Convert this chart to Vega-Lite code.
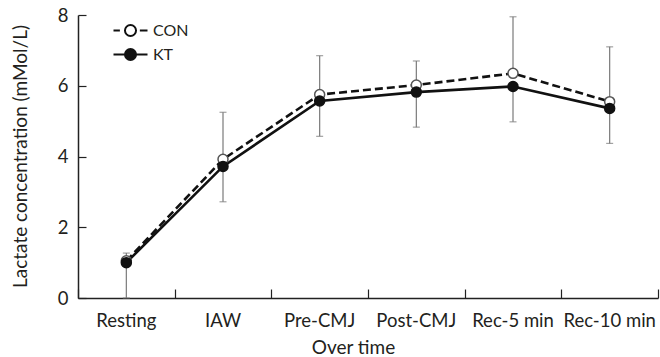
{
  "$schema": "https://vega.github.io/schema/vega-lite/v6.json",
  "width": 580,
  "height": 283,
  "autosize": {"type": "none"},
  "padding": {"left": 78, "top": 15, "right": 2, "bottom": 59},
  "background": "white",
  "config": {
    "font": "Lato",
    "view": {"stroke": null},
    "axis": {
      "grid": false,
      "domainColor": "#222",
      "domainWidth": 1.5,
      "tickColor": "#222",
      "tickWidth": 1.2,
      "labelColor": "#231f20",
      "titleColor": "#231f20",
      "labelFontSize": 18.5,
      "titleFontSize": 19,
      "titleFontWeight": "normal",
      "labelFont": "Lato",
      "titleFont": "Lato"
    },
    "legend": {
      "labelFont": "Lato",
      "labelFontSize": 16,
      "labelColor": "#231f20"
    }
  },
  "resolve": {"axis": {"x": "independent", "y": "independent"}},
  "data": {
    "values": [
      {"time": "Resting", "group": "CON", "mean": 1.05, "low": 1.05, "high": 1.27},
      {"time": "IAW", "group": "CON", "mean": 3.92, "low": 3.92, "high": 5.25},
      {"time": "Pre-CMJ", "group": "CON", "mean": 5.75, "low": 5.75, "high": 6.85},
      {"time": "Post-CMJ", "group": "CON", "mean": 6.02, "low": 6.02, "high": 6.7},
      {"time": "Rec-5 min", "group": "CON", "mean": 6.35, "low": 6.35, "high": 7.95},
      {"time": "Rec-10 min", "group": "CON", "mean": 5.55, "low": 5.55, "high": 7.1},
      {"time": "Resting", "group": "KT", "mean": 1.0, "low": 0.0, "high": 1.0},
      {"time": "IAW", "group": "KT", "mean": 3.72, "low": 2.72, "high": 3.72},
      {"time": "Pre-CMJ", "group": "KT", "mean": 5.57, "low": 4.57, "high": 5.57},
      {"time": "Post-CMJ", "group": "KT", "mean": 5.82, "low": 4.83, "high": 5.82},
      {"time": "Rec-5 min", "group": "KT", "mean": 5.98, "low": 4.98, "high": 5.98},
      {"time": "Rec-10 min", "group": "KT", "mean": 5.36, "low": 4.37, "high": 5.36}
    ]
  },
  "encoding": {
    "x": {
      "field": "time",
      "type": "nominal",
      "sort": ["Resting", "IAW", "Pre-CMJ", "Post-CMJ", "Rec-5 min", "Rec-10 min"],
      "scale": {"type": "band", "paddingInner": 0, "paddingOuter": 0},
      "axis": null
    }
  },
  "layer": [
    {
      "mark": {"type": "rule", "color": "#7a7a7a", "strokeWidth": 1.2},
      "encoding": {
        "x": {
          "field": "time",
          "type": "nominal",
          "sort": ["Resting", "IAW", "Pre-CMJ", "Post-CMJ", "Rec-5 min", "Rec-10 min"],
          "scale": {"type": "band", "paddingInner": 0, "paddingOuter": 0},
          "axis": {
            "orient": "bottom",
            "title": "Over time",
            "labelAngle": 0,
            "ticks": false,
            "labelPadding": 13,
            "titleX": 275,
            "titleY": 55,
            "titleBaseline": "alphabetic",
            "titleAnchor": null
          }
        },
        "y": {
          "field": "low",
          "type": "quantitative",
          "scale": {"domain": [0, 8]},
          "axis": {
            "orient": "left",
            "title": "Lactate concentration (mMol/L)",
            "values": [0, 2, 4, 6, 8],
            "ticks": false,
            "labelPadding": 10,
            "titleX": -58,
            "titleY": 141,
            "titleBaseline": "middle",
            "titleAnchor": null
          }
        },
        "y2": {"field": "high"}
      }
    },
    {
      "mark": {"type": "tick", "orient": "horizontal", "color": "#7a7a7a", "size": 7, "thickness": 1.2},
      "encoding": {
        "x": {
          "field": "time",
          "type": "nominal",
          "sort": ["Resting", "IAW", "Pre-CMJ", "Post-CMJ", "Rec-5 min", "Rec-10 min"],
          "scale": {"type": "band", "paddingInner": 0, "paddingOuter": 0},
          "axis": {
            "orient": "top",
            "title": null,
            "domain": false,
            "labels": false,
            "ticks": true,
            "tickSize": 9,
            "offset": -283,
            "tickBand": "extent"
          }
        },
        "y": {
          "field": "low",
          "type": "quantitative",
          "axis": {
            "orient": "right",
            "title": null,
            "domain": false,
            "labels": false,
            "ticks": true,
            "tickSize": 8,
            "offset": -580,
            "values": [0, 2, 4, 6, 8]
          }
        }
      }
    },
    {
      "mark": {"type": "tick", "orient": "horizontal", "color": "#7a7a7a", "size": 7, "thickness": 1.2},
      "encoding": {"y": {"field": "high", "type": "quantitative", "axis": null}}
    },
    {
      "transform": [{"filter": "datum.group === 'CON'"}],
      "mark": {"type": "line", "color": "#111", "strokeWidth": 2.6, "strokeDash": [8, 4]},
      "encoding": {"y": {"field": "mean", "type": "quantitative", "axis": null}}
    },
    {
      "transform": [{"filter": "datum.group === 'KT'"}],
      "mark": {"type": "line", "color": "#111", "strokeWidth": 2.6},
      "encoding": {"y": {"field": "mean", "type": "quantitative", "axis": null}}
    },
    {
      "mark": {"type": "point", "shape": "circle", "filled": true, "size": 100, "strokeWidth": 1.5, "opacity": 1},
      "encoding": {
        "y": {"field": "mean", "type": "quantitative", "axis": null},
        "fill": {"condition": {"test": "datum.group === 'CON'", "value": "white"}, "value": "#111"},
        "stroke": {"condition": {"test": "datum.group === 'CON'", "value": "#555"}, "value": "#111"}
      }
    },
    {
      "transform": [{"filter": "datum.group === 'none'"}],
      "mark": {"type": "point", "filled": true, "size": 289, "strokeWidth": 2, "opacity": 1},
      "encoding": {
        "y": {"field": "mean", "type": "quantitative", "axis": null},
        "shape": {
          "field": "group",
          "type": "nominal",
          "scale": {
            "domain": ["CON", "KT"],
            "range": [
              "M-2,0H-1.25M1.1,0H2M-0.65,0A0.65,0.65 0 1,0 0.65,0A0.65,0.65 0 1,0 -0.65,0Z",
              "M-2,0H-0.65M0.65,0H2M-0.65,0A0.65,0.65 0 1,0 0.65,0A0.65,0.65 0 1,0 -0.65,0Z"
            ]
          },
          "legend": {
            "title": null,
            "orient": "none",
            "legendX": 43,
            "legendY": 6,
            "padding": 0,
            "symbolSize": 289,
            "labelOffset": 13,
            "rowPadding": 3,
            "symbolStrokeWidth": 2
          }
        },
        "fill": {
          "field": "group",
          "type": "nominal",
          "scale": {"domain": ["CON", "KT"], "range": ["white", "#111"]},
          "legend": {
            "title": null,
            "orient": "none",
            "legendX": 43,
            "legendY": 6,
            "padding": 0,
            "symbolSize": 289,
            "labelOffset": 13,
            "rowPadding": 3,
            "symbolStrokeWidth": 2
          }
        },
        "stroke": {
          "field": "group",
          "type": "nominal",
          "scale": {"domain": ["CON", "KT"], "range": ["#111", "#111"]},
          "legend": {
            "title": null,
            "orient": "none",
            "legendX": 43,
            "legendY": 6,
            "padding": 0,
            "symbolSize": 289,
            "labelOffset": 13,
            "rowPadding": 3,
            "symbolStrokeWidth": 2
          }
        }
      }
    }
  ]
}
